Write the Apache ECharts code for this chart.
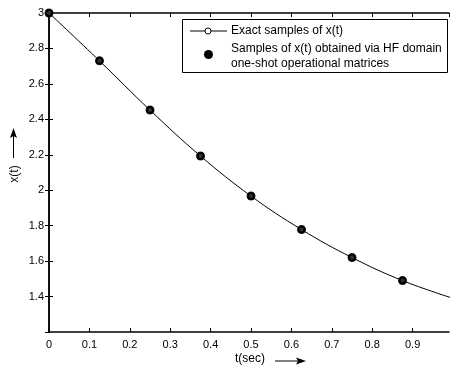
<!DOCTYPE html>
<html><head><meta charset="utf-8">
<script src="https://cdn.jsdelivr.net/npm/echarts@6/dist/echarts.min.js"></script>
<style>html,body{margin:0;padding:0;background:#fff}#c{width:450px;height:367px}</style>
</head><body><div id="c"></div>
<script>
var tExact = [0, 0.125, 0.25, 0.375, 0.5, 0.625, 0.75, 0.875, 1.0];
var xExact = [3.0, 2.73, 2.452, 2.193, 1.967, 1.778, 1.62, 1.49, 1.39];
var tHF = [0, 0.125, 0.25, 0.375, 0.5, 0.625, 0.75, 0.875];
var xHF = [3.0, 2.73, 2.452, 2.193, 1.967, 1.778, 1.62, 1.49];
var legendLabels = ['Exact samples of x(t)', 'Samples of x(t) obtained via HF domain', 'one-shot operational matrices'];
var xTitle = 't(sec)';
var yTitle = 'x(t)';

var font = 'Liberation Sans, Arial, sans-serif';
var chart = echarts.init(document.getElementById('c'));
function pairs(a, b) { return a.map(function (v, i) { return [v, b[i]]; }); }
var axisCommon = {
  axisLine: { show: true, lineStyle: { color: '#000', width: 1.5 } },
  axisTick: { show: true, inside: true, length: 4, lineStyle: { color: '#000' } },
  splitLine: { show: false }
};
chart.setOption({
  animation: false,
  grid: { left: 49, right: 1, top: 13, bottom: 35 },
  xAxis: [
    Object.assign({ type: 'value', min: 0, max: 0.99, interval: 0.1, position: 'bottom',
      axisLabel: { color: '#000', fontSize: 11, fontFamily: font, margin: 7, showMaxLabel: false,
        formatter: function (v) { return String(Math.round(v * 10) / 10); } } }, axisCommon),
    Object.assign({ type: 'value', min: 0, max: 0.99, interval: 0.1, position: 'top',
      axisLabel: { show: false } }, axisCommon)
  ],
  yAxis: [
    Object.assign({ type: 'value', min: 1.2, max: 3, interval: 0.2, position: 'left',
      axisLabel: { color: '#000', fontSize: 11, fontFamily: font, margin: 5, showMinLabel: false,
        formatter: function (v) { return String(Math.round(v * 10) / 10); } } }, axisCommon),
    Object.assign({ type: 'value', min: 1.2, max: 3, interval: 0.2, position: 'right',
      axisLabel: { show: false } }, axisCommon)
  ],
  series: [
    { name: legendLabels[0], type: 'line', data: pairs(tExact, xExact), smooth: 0.4,
      symbol: 'emptyCircle', symbolSize: 6, showAllSymbol: true,
      lineStyle: { color: '#000', width: 1 }, itemStyle: { color: '#000', borderColor: '#000', borderWidth: 1 },
      clip: true, z: 2 },
    { name: legendLabels[1], type: 'scatter', data: pairs(tHF, xHF), symbol: 'circle', symbolSize: 9,
      itemStyle: { color: '#000' }, clip: false, z: 3 }
  ],
  graphic: [
    { type: 'rect', shape: { x: 182.5, y: 19.5, width: 265, height: 53 }, style: { fill: '#fff', stroke: '#000', lineWidth: 1 }, z: 10 },
    { type: 'line', shape: { x1: 190, y1: 31, x2: 227, y2: 31 }, style: { stroke: '#000', lineWidth: 1 }, z: 11 },
    { type: 'circle', shape: { cx: 208, cy: 31, r: 3 }, style: { fill: '#fff', stroke: '#000', lineWidth: 1 }, z: 12 },
    { type: 'circle', shape: { cx: 208.5, cy: 54.5, r: 4.5 }, style: { fill: '#000' }, z: 12 },
    { type: 'text', x: 231, y: 31, style: { text: legendLabels[0], fill: '#000', font: '12px ' + font, textVerticalAlign: 'middle' }, z: 12 },
    { type: 'text', x: 231, y: 49, style: { text: legendLabels[1], fill: '#000', font: '12px ' + font, textVerticalAlign: 'middle' }, z: 12 },
    { type: 'text', x: 231, y: 63.5, style: { text: legendLabels[2], fill: '#000', font: '12px ' + font, textVerticalAlign: 'middle' }, z: 12 },
    { type: 'text', x: 250, y: 359, style: { text: xTitle, fill: '#000', font: '12px ' + font, textAlign: 'center', textVerticalAlign: 'middle' } },
    { type: 'line', shape: { x1: 275, y1: 361, x2: 300, y2: 361 }, style: { stroke: '#000', lineWidth: 1 } },
    { type: 'polygon', shape: { points: [[306, 361], [296, 357.5], [298, 361], [296, 364.5]] }, style: { fill: '#000' } },
    { type: 'text', x: 15, y: 174, rotation: Math.PI / 2, style: { text: yTitle, fill: '#000', font: '12px ' + font, textAlign: 'center', textVerticalAlign: 'middle' } },
    { type: 'line', shape: { x1: 13.5, y1: 158, x2: 13.5, y2: 135 }, style: { stroke: '#000', lineWidth: 1 } },
    { type: 'polygon', shape: { points: [[13.5, 128], [10, 138], [13.5, 136], [17, 138]] }, style: { fill: '#000' } }
  ]
});
</script></body></html>
